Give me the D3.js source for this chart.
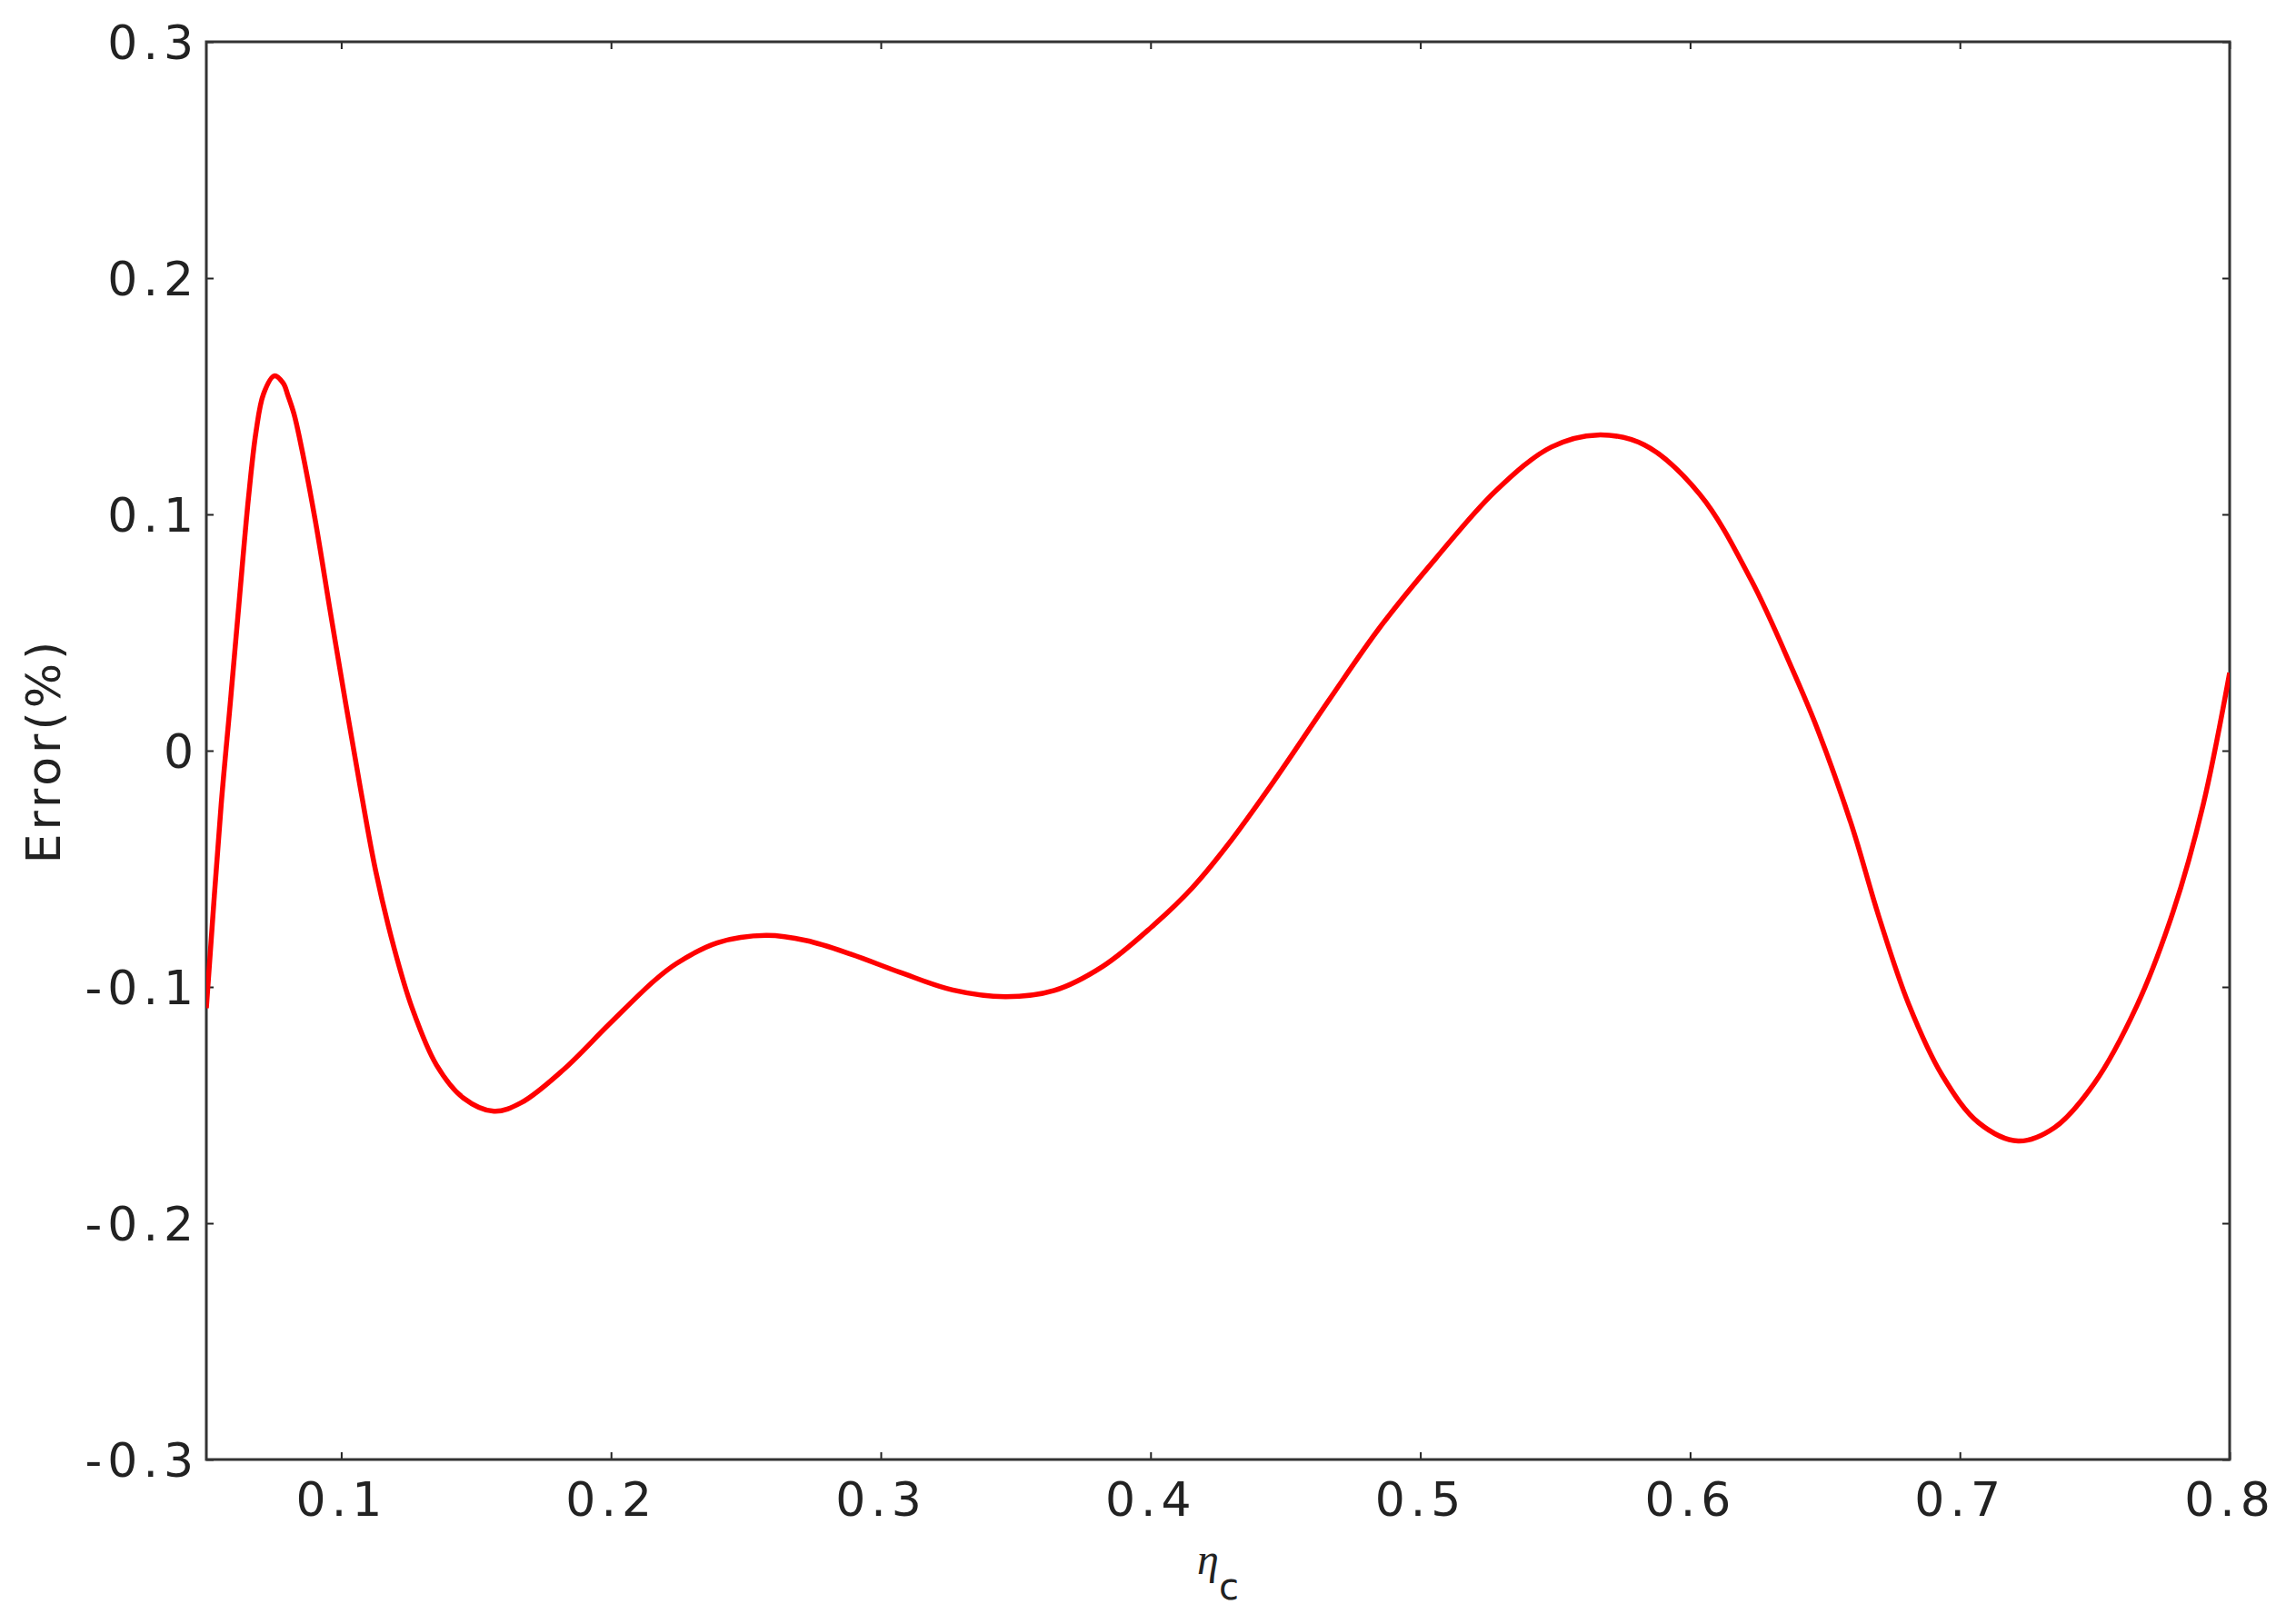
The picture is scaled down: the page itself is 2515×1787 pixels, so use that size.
<!DOCTYPE html>
<html>
<head>
<meta charset="utf-8">
<script src="https://cdn.jsdelivr.net/npm/d3@7"></script>
<style>
  body { margin: 0; background: #fff; }
  text { font-family: "DejaVu Sans", sans-serif; fill: #222; }
</style>
</head>
<body>
<script>
// values
var etaC = [0.05, 0.0555, 0.0589, 0.0622, 0.0656, 0.0684, 0.0712, 0.0752, 0.0785, 0.0802, 0.0825, 0.0847,
  0.0903, 0.0959, 0.1016, 0.1072, 0.1128, 0.1196, 0.1263, 0.1353, 0.1453, 0.1566,
  0.1667, 0.1824, 0.1993, 0.2161, 0.2244, 0.2395, 0.2575, 0.2725, 0.2891, 0.3071,
  0.3267, 0.3463, 0.3643, 0.3823, 0.4004, 0.4155, 0.4284, 0.4456, 0.4662, 0.4851,
  0.5057, 0.528, 0.5486, 0.5658, 0.583, 0.6036, 0.6226, 0.638, 0.6474, 0.6598,
  0.6699, 0.6811, 0.6935, 0.707, 0.7216, 0.7351, 0.7497, 0.7655, 0.779, 0.7902, 0.8];
var errPct = [-0.109, -0.0229, 0.0204, 0.0635, 0.1067, 0.1348, 0.151, 0.1586, 0.1555, 0.1505, 0.1425, 0.1315,
  0.098, 0.0592, 0.0204, -0.0165, -0.051, -0.0835, -0.109, -0.133, -0.147, -0.1526,
  -0.149, -0.135, -0.1158, -0.0973, -0.090, -0.0813, -0.0782, -0.0804, -0.0862, -0.0938,
  -0.1013, -0.1041, -0.1015, -0.0913, -0.0746, -0.058, -0.0402, -0.0131, 0.0215, 0.0523,
  0.0813, 0.110, 0.1285, 0.1336, 0.1294, 0.1085, 0.0723, 0.0342, 0.0086, -0.0313,
  -0.070, -0.1075, -0.1375, -0.1575, -0.1652, -0.1595, -0.141, -0.1082, -0.0683, -0.0228, 0.033];

var xTicks = [0.1, 0.2, 0.3, 0.4, 0.5, 0.6, 0.7, 0.8];
var yTicks = [-0.3, -0.2, -0.1, 0, 0.1, 0.2, 0.3];

var W = 2515, H = 1787;
// plot box (window.top is reserved, so use own names)
var pL = 227, pR = 2453, pT = 46, pB = 1606;

var svg = d3.select('body').append('svg')
    .attr('width', W)
    .attr('height', H);

var x = d3.scaleLinear().domain([0.05, 0.8]).range([pL, pR]);
var y = d3.scaleLinear().domain([-0.3, 0.3]).range([pB, pT]);

var fmt = function(d) { return d === 0 ? '0' : d.toFixed(1); };

// bottom axis with labels, ticks pointing in
var gx = svg.append('g')
    .attr('transform', 'translate(0,' + pB + ')')
    .call(d3.axisBottom(x).tickValues(xTicks).tickFormat(fmt)
        .tickSizeInner(-8).tickSizeOuter(0).tickPadding(25));

var gy = svg.append('g')
    .attr('transform', 'translate(' + pL + ',0)')
    .call(d3.axisLeft(y).tickValues(yTicks).tickFormat(fmt)
        .tickSizeInner(-8).tickSizeOuter(0).tickPadding(8));

// mirrored ticks top and right, no labels
var gt = svg.append('g')
    .attr('transform', 'translate(0,' + pT + ')')
    .call(d3.axisTop(x).tickValues(xTicks).tickFormat('')
        .tickSizeInner(-8).tickSizeOuter(0));
var gr = svg.append('g')
    .attr('transform', 'translate(' + pR + ',0)')
    .call(d3.axisRight(y).tickValues(yTicks).tickFormat('')
        .tickSizeInner(-8).tickSizeOuter(0));

[gx, gy, gt, gr].forEach(function(g) {
    g.select('.domain').remove();
    g.selectAll('line').attr('stroke', '#222').attr('stroke-width', 2);
    g.selectAll('text')
        .attr('font-family', '"DejaVu Sans", sans-serif')
        .attr('font-size', 52)
        .attr('letter-spacing', 6)
        .attr('fill', '#222');
});
gy.selectAll('text').attr('dy', '0.36em');

// box
svg.append('rect')
    .attr('x', pL)
    .attr('y', pT)
    .attr('width', pR - pL)
    .attr('height', pB - pT)
    .attr('fill', 'none')
    .attr('stroke', '#333')
    .attr('stroke-width', 3);

svg.append('clipPath').attr('id', 'plotclip')
    .append('rect')
    .attr('x', pL).attr('y', pT - 5)
    .attr('width', pR - pL).attr('height', pB - pT + 10);

var line = d3.line()
    .x(function(d, i) { return x(etaC[i]); })
    .y(function(d, i) { return y(errPct[i]); })
    .curve(d3.curveCatmullRom.alpha(0.5));

svg.append('path')
    .datum(etaC)
    .attr('d', line)
    .attr('clip-path', 'url(#plotclip)')
    .attr('fill', 'none')
    .attr('stroke', '#ff0000')
    .attr('stroke-width', 5.5);

// y label
svg.append('text')
    .attr('transform', 'translate(66,' + ((pT + pB) / 2) + ') rotate(-90)')
    .attr('text-anchor', 'middle')
    .attr('font-size', 52)
    .attr('letter-spacing', 4)
    .text('Error(%)');

// x label: eta with subscript c
var xl = svg.append('text')
    .attr('x', (pL + pR) / 2)
    .attr('y', 1732)
    .attr('text-anchor', 'middle');
xl.append('tspan')
    .attr('font-family', '"Liberation Serif", serif')
    .attr('font-style', 'italic')
    .attr('font-size', 48)
    .text('η');
xl.append('tspan')
    .attr('font-size', 40)
    .attr('dy', 28)
    .text('c');
</script>
</body>
</html>
